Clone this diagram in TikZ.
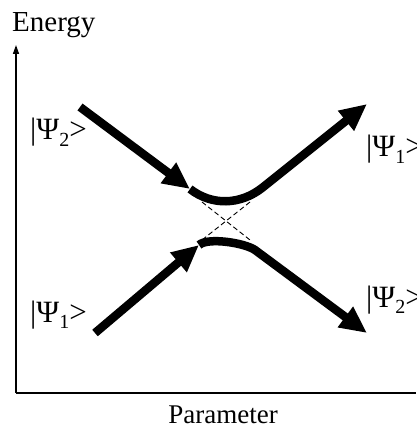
\documentclass[tikz,border=0pt]{standalone}
\usepackage{fontspec}
\setmainfont{Liberation Serif}
\usetikzlibrary{arrows.meta}
\newcommand{\myket}[1]{|Ψ\raisebox{-0.22em}{\fontsize{20}{20}\selectfont #1}>}
\begin{document}
\begin{tikzpicture}[x=1pt,y=-1pt,
  axisline/.style={line width=1.4pt,black},
  statepath/.style={line width=8.5pt,black},
  bigtip/.style={-{Triangle[length=27pt,width=24pt]}},
  crossline/.style={line width=0.9pt,dash pattern=on 5pt off 3pt},
  statelabel/.style={anchor=base west,inner sep=0pt,font=\fontsize{31}{31}\selectfont},
  axislabel/.style={inner sep=0pt,font=\fontsize{27}{27}\selectfont}]
\useasboundingbox (0,0) rectangle (416,430);
% axes
\coordinate (O) at (16,393);
\coordinate (ytop) at (16,45);
\coordinate (xend) at (416,393);
\draw[axisline,-{Triangle[length=9pt,width=6pt]}] (O) -- (ytop);
\draw[axisline] (O) -- (xend);
\node[axislabel,anchor=base west,font=\fontsize{29}{29}\selectfont] (energy) at (12,32) {Energy};
\node[axislabel,anchor=base] (param) at (223,423) {Parameter};
% dashed crossing
\coordinate (d1) at (202,202);
\coordinate (d2) at (250,240);
\coordinate (d3) at (250,202);
\coordinate (d4) at (202,240);
\draw[crossline] (d1) -- (d2);
\draw[crossline] (d3) -- (d4);
% upper branch
\coordinate (u0) at (80,107);
\coordinate (u1) at (190,189);
\coordinate (u2) at (262,188);
\coordinate (u3) at (367,104);
\draw[statepath,bigtip] (u0) -- (u1);
\draw[statepath,bigtip] (u1) .. controls (212,206) and (240,205) .. (u2) -- (u3);
% lower branch
\coordinate (l0) at (95,333);
\coordinate (l1) at (199,245);
\coordinate (l2) at (255,250);
\coordinate (l3) at (367,333);
\draw[statepath,bigtip] (l0) -- (l1);
\draw[statepath,bigtip] (l1) .. controls (208,237) and (245,243) .. (l2) -- (l3);
% labels
\node[statelabel] (lpsi2) at (30,140) {\myket{2}};
\node[statelabel] (lpsi1) at (30,322) {\myket{1}};
\node[statelabel] (rpsi1) at (366,157) {\myket{1}};
\node[statelabel] (rpsi2) at (366,307) {\myket{2}};
\end{tikzpicture}
\end{document}
